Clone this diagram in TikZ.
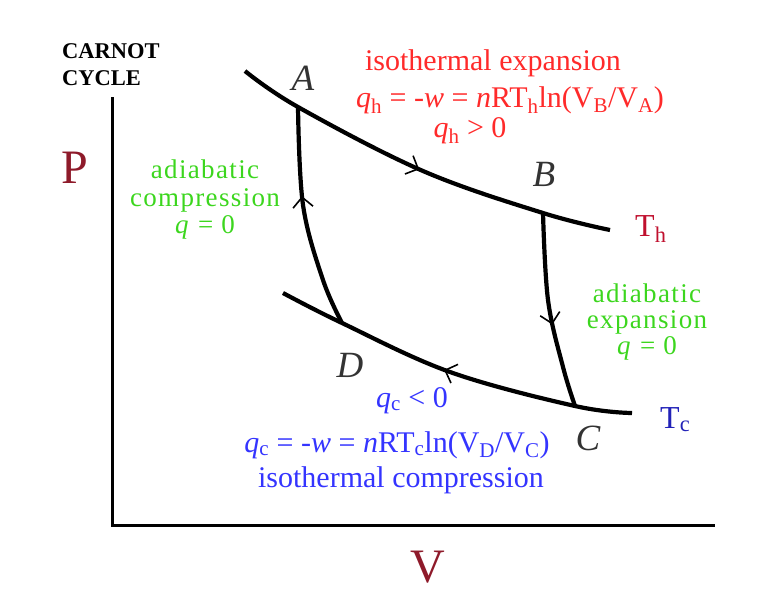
\documentclass[tikz,border=0pt]{standalone}
\usepackage{fontspec}
\setmainfont{Liberation Serif}
\newfontfamily\widefont[LetterSpace=5]{Liberation Serif}
\usetikzlibrary{arrows.meta,decorations.markings}
\definecolor{hotred}{HTML}{FF2A2A}
\definecolor{leafgreen}{HTML}{3CD61E}
\definecolor{brightblue}{HTML}{3434FF}
\definecolor{axisred}{HTML}{8E1A2A}
\definecolor{thred}{HTML}{C0102E}
\definecolor{tcblue}{HTML}{2222B8}
\tikzset{
  midarrow/.style={postaction={decorate},
    decoration={markings,mark=at position #1 with
      {\arrow{Straight Barb[length=10pt,width=20pt,line width=1.6pt]}}}}
}
\begin{document}
\begin{tikzpicture}[x=1pt,y=-1pt,
     curve/.style = {line width=4.2pt,line join=round},
     axis/.style = {line width=3pt},
     lbl/.style = {inner sep=0pt,anchor=base,font=\fontsize{30}{34}\selectfont},
     redtxt/.style = {lbl,text=hotred},
     greentxt/.style = {lbl,text=leafgreen,font=\fontsize{27}{28}\widefont},
     bluetxt/.style = {lbl,text=brightblue},
     corner/.style = {lbl,text=black!80,font=\fontsize{37}{40}\selectfont\itshape}]
     \useasboundingbox (0,0) rectangle (770,600);
     % corners of the cycle
     \coordinate (A) at (298,107);
     \coordinate (B) at (543,213);
     \coordinate (C) at (575,406);
     \coordinate (D) at (342,323);
     \coordinate (th0) at (245,71);
     \coordinate (thm) at (423,171);
     \coordinate (th1) at (610,230);
     \coordinate (tc0) at (283,293);
     \coordinate (tcm) at (450,372);
     \coordinate (tc1) at (632,413);
     \coordinate (adm) at (303,205);
     \coordinate (adn) at (323,280);
     \coordinate (bcm) at (548,300);
     \coordinate (bcn) at (563,367);
     \coordinate (origin) at (112,525);
     % axes
     \draw[axis] (112,97) -- (origin) -- (715,525);
     % isotherms and adiabats
     \draw[curve,midarrow=0.5] plot[smooth,tension=0.6]
         coordinates {(th0) (A) (thm) (B) (th1)};
     \draw[curve,midarrow=0.57] plot[smooth,tension=0.6]
         coordinates {(B) (bcm) (bcn) (C)};
     \draw[curve,midarrow=0.52] plot[smooth,tension=0.6]
         coordinates {(tc1) (C) (tcm) (D) (tc0)};
     \draw[curve,midarrow=0.6] plot[smooth,tension=0.6]
         coordinates {(D) (adn) (adm) (A)};
     % title and axis names
     \node[lbl,anchor=base west,font=\fontsize{22.5}{26}\selectfont\bfseries]
         (carnot) at (62,58) {CARNOT};
     \node[lbl,anchor=base west,font=\fontsize{22.5}{26}\selectfont\bfseries]
         (cycle) at (62,85) {CYCLE};
     \node[lbl,text=axisred,font=\fontsize{48}{50}\selectfont] (P) at (75,183) {P};
     \node[lbl,text=axisred,font=\fontsize{48}{50}\selectfont] (V) at (428,582) {V};
     \node[lbl,anchor=base west,text=thred,font=\fontsize{32}{34}\selectfont]
         (Th) at (635,236) {T\textsubscript{h}};
     \node[lbl,anchor=base west,text=tcblue,font=\fontsize{32}{34}\selectfont]
         (Tc) at (660,428) {T\textsubscript{c}};
     % corner names
     \node[corner] (lA) at (303,90) {A};
     \node[corner] (lB) at (544,186) {B};
     \node[corner] (lC) at (588,450) {C};
     \node[corner] (lD) at (350,377) {D};
     % isothermal expansion
     \node[redtxt] (hot1) at (493,70) {isothermal expansion};
     \node[redtxt] (hot2) at (510,107)
         {\textit{q}\textsubscript{h} = -\textit{w} = \textit{n}RT\textsubscript{h}ln(V\textsubscript{B}/V\textsubscript{A})};
     \node[redtxt] (hot3) at (470,137) {\textit{q}\textsubscript{h} > 0};
     % adiabatic steps
     \node[greentxt] (comp1) at (205,178) {adiabatic};
     \node[greentxt] (comp2) at (205,206) {compression};
     \node[greentxt] (comp3) at (205,233) {\textit{q} = 0};
     \node[greentxt] (exp1) at (647,302) {adiabatic};
     \node[greentxt] (exp2) at (647,328) {expansion};
     \node[greentxt] (exp3) at (647,354) {\textit{q} = 0};
     % isothermal compression
     \node[bluetxt] (cold1) at (412,407) {\textit{q}\textsubscript{c} < 0};
     \node[bluetxt] (cold2) at (397,452)
         {\textit{q}\textsubscript{c} = -\textit{w} = \textit{n}RT\textsubscript{c}ln(V\textsubscript{D}/V\textsubscript{C})};
     \node[bluetxt] (cold3) at (401,487) {isothermal compression};
\end{tikzpicture}
\end{document}
